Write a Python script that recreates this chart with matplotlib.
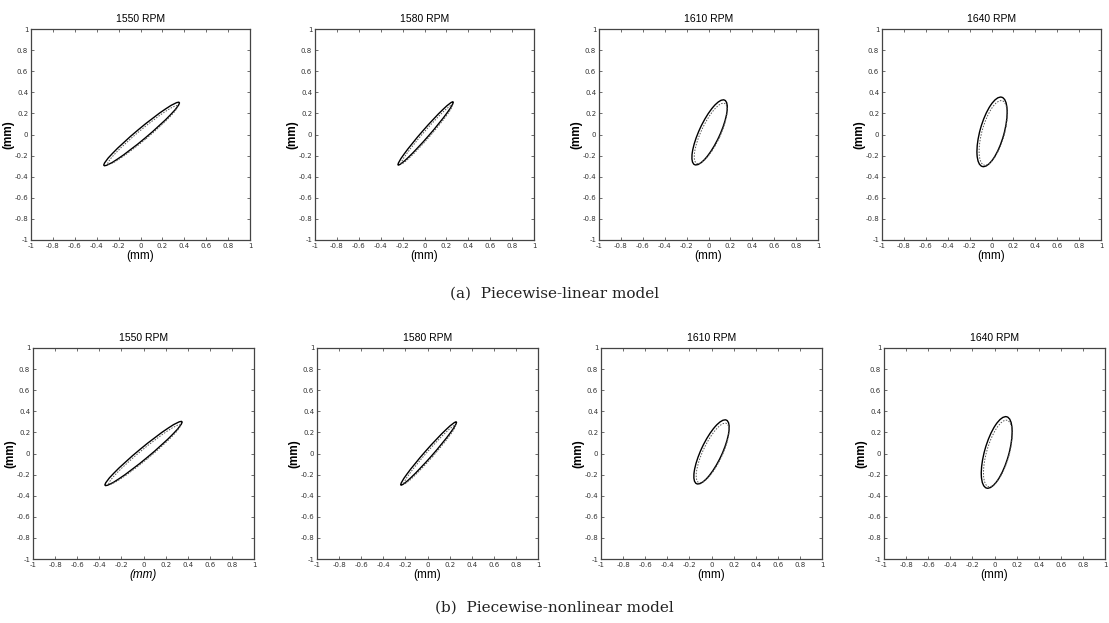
import numpy as np
import matplotlib.pyplot as plt
from matplotlib.patches import Ellipse

# orbit data: centre, half axes (mm) and tilt (deg)
speeds = ["1550 RPM", "1580 RPM", "1610 RPM", "1640 RPM"]
captions = ["(a)  Piecewise-linear model", "(b)  Piecewise-nonlinear model"]

# row (a) piecewise-linear
lin_cx = [0.01, 0.01, 0.01, 0.005]
lin_cy = [0.005, 0.01, 0.02, 0.025]
lin_major = [0.455, 0.39, 0.335, 0.34]
lin_minor = [0.05, 0.035, 0.095, 0.11]
lin_angle = [41, 50, 66, 75]

# row (b) piecewise-nonlinear
nl_cx = [0.0, 0.01, 0.0, 0.02]
nl_cy = [0.0, 0.0, 0.015, 0.01]
nl_major = [0.46, 0.39, 0.33, 0.35]
nl_minor = [0.05, 0.035, 0.095, 0.11]
nl_angle = [41, 50, 66, 75]

# second (dotted) trace sits slightly inside the solid one
inner_scale = 0.93

ticks = np.round(np.arange(-1, 1.01, 0.2), 1)
tick_labels = ["-1", "-0.8", "-0.6", "-0.4", "-0.2", "0", "0.2", "0.4", "0.6", "0.8", "1"]

fig = plt.figure(figsize=(11.09, 6.23), dpi=100)
W, H = 1109, 623

# axes boxes in pixels
lefts = [[31, 315, 599, 882], [33, 317, 601, 884]]
widths = [219, 221]
tops = [29, 348]
height = 211

rows = [
    (lin_cx, lin_cy, lin_major, lin_minor, lin_angle),
    (nl_cx, nl_cy, nl_major, nl_minor, nl_angle),
]

for r, (cx, cy, maj, mnr, ang) in enumerate(rows):
    for c in range(4):
        l = lefts[r][c]
        w = widths[r]
        ax = fig.add_axes([l / W, 1 - (tops[r] + height) / H, w / W, height / H])
        ax.set_xlim(-1, 1)
        ax.set_ylim(-1, 1)
        ax.set_xticks(ticks)
        ax.set_yticks(ticks)
        ax.set_xticklabels(tick_labels, fontsize=5, color="#333333")
        ax.set_yticklabels(tick_labels, fontsize=5, color="#333333")
        ax.tick_params(direction="in", length=2, width=0.6, pad=2, colors="#555555",
                       labelcolor="#333333", top=True, right=True)
        for sp in ax.spines.values():
            sp.set_linewidth(0.9)
            sp.set_color("#444444")
        ax.set_title(speeds[c], fontsize=7.5, pad=5, family="Liberation Sans")
        ax.set_xlabel("(mm)", fontsize=8.5, labelpad=1, family="Liberation Sans",
                      style="italic" if r == 1 and c == 0 else "normal")
        ax.set_ylabel("(mm)", fontsize=8.5, labelpad=0, family="Liberation Sans",
                      fontweight="bold")

        ax.add_patch(Ellipse((cx[c], cy[c]), 2 * maj[c], 2 * mnr[c], angle=ang[c],
                             fill=False, ec="black", lw=1.0))
        ax.add_patch(Ellipse((cx[c] + 0.01, cy[c] - 0.01), 2 * maj[c] * inner_scale,
                             2 * mnr[c] * inner_scale, angle=ang[c],
                             fill=False, ec="#555555", lw=0.7, ls=(0, (1.5, 1.5))))

fig.text(0.5, 1 - 294 / H, captions[0], ha="center", va="center", fontsize=11,
         family="DejaVu Serif", color="#222222")
fig.text(0.5, 1 - 608 / H, captions[1], ha="center", va="center", fontsize=11,
         family="DejaVu Serif", color="#222222")

fig.savefig("out.png", dpi=100, facecolor="white")
